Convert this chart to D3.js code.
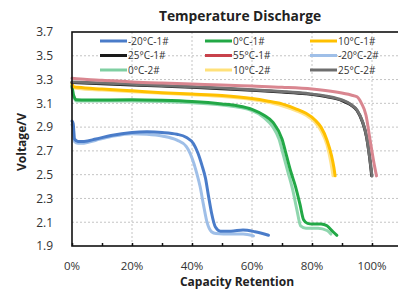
<!DOCTYPE html>
<html><head><meta charset="utf-8">
<script src="https://cdn.jsdelivr.net/npm/d3@7/dist/d3.min.js"></script>
<style>
html,body{margin:0;padding:0;background:#fff;}
svg{display:block;font-family:"Open Sans","Noto Sans",sans-serif;}
</style></head><body>
<svg id="chart" width="398" height="290"></svg>
<script>
// ---- data (capacity retention %, voltage V) ----
const seriesNames = ["-20°C-1#","0°C-1#","10°C-1#","25°C-1#","55°C-1#","-20°C-2#","0°C-2#","10°C-2#","25°C-2#"];
const xTicks = [0,20,40,60,80,100];
const xMinorTicks = [10,30,50,70,90];
const yTicks = [1.9,2.1,2.3,2.5,2.7,2.9,3.1,3.3,3.5,3.7];

const m20_1 = [[0,2.95],[0.4,2.93],[0.8,2.80],[2,2.78],[4,2.78],[8,2.80],[13,2.83],[20,2.855],[25,2.86],[30,2.855],[35,2.84],[38,2.815],[40.5,2.76],[42,2.68],[43.3,2.58],[44.5,2.47],[45.5,2.32],[46.5,2.18],[47.8,2.06],[49.5,2.025],[53,2.025],[57,2.035],[61,2.02],[65.5,1.99]];
const z0_1 = [[0,3.25],[0.5,3.17],[1.5,3.13],[5,3.128],[20,3.13],[30,3.125],[40,3.115],[50,3.095],[55,3.08],[60,3.05],[64,3.0],[67,2.94],[70,2.80],[71.5,2.66],[73,2.52],[74.5,2.40],[76,2.25],[77.2,2.12],[78.5,2.09],[80,2.085],[83,2.085],[85,2.07],[87,2.02],[88.3,1.99]];
const t10_1 = [[0,3.27],[0.5,3.24],[2,3.235],[10,3.22],[20,3.205],[30,3.19],[40,3.178],[50,3.165],[60,3.14],[65,3.12],[70,3.095],[75,3.05],[78,3.016],[81,2.96],[83,2.90],[85,2.79],[86.5,2.66],[87.3,2.56],[87.7,2.49]];
const t25_1 = [[0,3.275],[10,3.265],[20,3.255],[30,3.245],[40,3.235],[50,3.223],[60,3.21],[70,3.195],[78,3.18],[85,3.155],[90,3.123],[93,3.085],[95,3.04],[96.8,2.945],[98.2,2.815],[99.2,2.645],[99.9,2.49]];
const t55_1 = [[0,3.31],[5,3.30],[10,3.295],[20,3.28],[30,3.27],[40,3.262],[50,3.255],[60,3.245],[70,3.235],[80,3.22],[88,3.195],[93,3.17],[95,3.155],[96.5,3.10],[98,3.00],[99.3,2.80],[100.5,2.62],[101.5,2.49]];
const m20_2 = [[0,2.92],[0.4,2.90],[0.8,2.78],[2,2.765],[4,2.765],[8,2.79],[13,2.82],[20,2.845],[25,2.84],[30,2.825],[35,2.79],[38,2.74],[40,2.64],[41.5,2.52],[42.7,2.40],[43.8,2.25],[45,2.10],[46.5,2.02],[48,2.005],[53,2.0],[57,2.0],[60.5,1.985]];
const z0_2 = [[0,3.24],[0.5,3.16],[1.5,3.12],[20,3.12],[40,3.105],[50,3.085],[60,3.04],[64,2.98],[67,2.90],[69,2.80],[70.5,2.66],[72,2.52],[73.5,2.38],[75,2.20],[76.2,2.07],[78,2.05],[82,2.05],[85,2.03],[86.3,2.0]];
const t10_2 = [[0,3.26],[0.5,3.23],[2,3.225],[10,3.212],[20,3.198],[30,3.185],[40,3.172],[50,3.158],[60,3.132],[65,3.11],[70,3.08],[75,3.035],[78,3.0],[81,2.94],[83,2.87],[85,2.75],[86.3,2.60],[87,2.49]];
const t25_2 = [[0,3.28],[10,3.27],[20,3.26],[30,3.25],[40,3.24],[50,3.228],[60,3.215],[70,3.20],[78,3.184],[85,3.16],[90,3.128],[93,3.09],[95,3.044],[96.8,2.95],[98.2,2.82],[99.2,2.65],[100,2.49]];

const seriesData = [m20_1,z0_1,t10_1,t25_1,t55_1,m20_2,z0_2,t10_2,t25_2];
const legendColors = ["#4a7cc9","#22a846","#ffc000","#1a1a1a","#c8414b","#9fbfe8","#7fcfa2","#ffe17a","#6e6e6e"];
const lineColors   = ["#4a7cc9","#22a846","#ffc000","#1a1a1a","#d98690","#9fbfe8","#8fd6ae","#ffe38a","#727272"];
// draw order: series 2 first, then series 1, gray over black
const drawOrder = [5,6,7,0,1,2,3,8,4];

const svg = d3.select("#chart");
const x = d3.scaleLinear().domain([0,110]).range([72,402]);
const y = d3.scaleLinear().domain([1.9,3.7]).range([246,32]);

// grid
const grid = svg.append("g").attr("stroke","#c4c4c4").attr("stroke-width",1).attr("stroke-dasharray","2,2");
grid.selectAll("line.v").data(xTicks.filter(d=>d>0)).enter().append("line")
  .attr("x1",d=>x(d)).attr("x2",d=>x(d)).attr("y1",y(3.7)).attr("y2",y(1.9));
grid.selectAll("line.h").data(yTicks.filter(d=>d>1.95&&d<3.65)).enter().append("line")
  .attr("x1",x(0)).attr("x2",x(110)).attr("y1",d=>y(d)).attr("y2",d=>y(d));

// curves
const line = d3.line().x(d=>x(d[0])).y(d=>y(d[1])).curve(d3.curveMonotoneX);
drawOrder.forEach(i=>{
  svg.append("path").datum(seriesData[i]).attr("d",line)
    .attr("fill","none").attr("stroke",lineColors[i]).attr("stroke-width",3)
    .attr("stroke-linejoin","round").attr("stroke-linecap","round");
});

// frame
svg.append("rect").attr("x",x(0)).attr("y",y(3.7)).attr("width",x(110)-x(0)).attr("height",y(1.9)-y(3.7))
  .attr("fill","none").attr("stroke","#111").attr("stroke-width",1.6);

// bottom axis ticks (inward)
const xAxis = d3.axisBottom(x).tickValues(xTicks.concat(xMinorTicks)).tickSizeInner(-3).tickSizeOuter(0).tickFormat("");
const gx = svg.append("g").attr("transform",`translate(0,${y(1.9)})`).call(xAxis);
gx.select(".domain").remove();
gx.selectAll(".tick line").attr("stroke","#111").attr("stroke-width",1.5);
svg.append("g").selectAll("text").data(xTicks).enter().append("text")
  .attr("x",d=>x(d)).attr("y",269.5).attr("text-anchor","middle")
  .attr("font-size",11.5).attr("fill","#333").text(d=>d+"%");

// y labels
const yAxis = d3.axisLeft(y).tickValues(yTicks).tickSize(0).tickFormat(d3.format(".1f"));
const gy = svg.append("g").attr("transform",`translate(${x(0)},0)`).call(yAxis);
gy.select(".domain").remove();
gy.selectAll(".tick text").attr("x",-19).attr("font-size",12).attr("fill","#333")
  .attr("font-family","'Open Sans','Noto Sans',sans-serif");

// titles
svg.append("text").attr("x",240).attr("y",21).attr("text-anchor","middle")
  .attr("font-size",13.8).attr("font-weight","bold").attr("fill","#222").text("Temperature Discharge");
svg.append("text").attr("x",237).attr("y",286).attr("text-anchor","middle")
  .attr("font-size",12).attr("font-weight","bold").attr("fill","#222").text("Capacity Retention");
svg.append("text").attr("transform","translate(26,142) rotate(-90)").attr("text-anchor","middle")
  .attr("font-size",12).attr("font-weight","bold").attr("fill","#222").text("Voltage/V");

// legend
const colX = [100,205,310];
const rowY = [41,55.5,70];
const lg = svg.append("g");
seriesNames.forEach((name,i)=>{
  const cx = colX[i%3], cy = rowY[Math.floor(i/3)];
  lg.append("line").attr("x1",cx).attr("x2",cx+27).attr("y1",cy).attr("y2",cy)
    .attr("stroke",legendColors[i]).attr("stroke-width",3);
  lg.append("text").attr("x",cx+28).attr("y",cy+3.5).attr("font-size",10)
    .attr("fill","#333").text(name);
});
</script>
</body></html>
